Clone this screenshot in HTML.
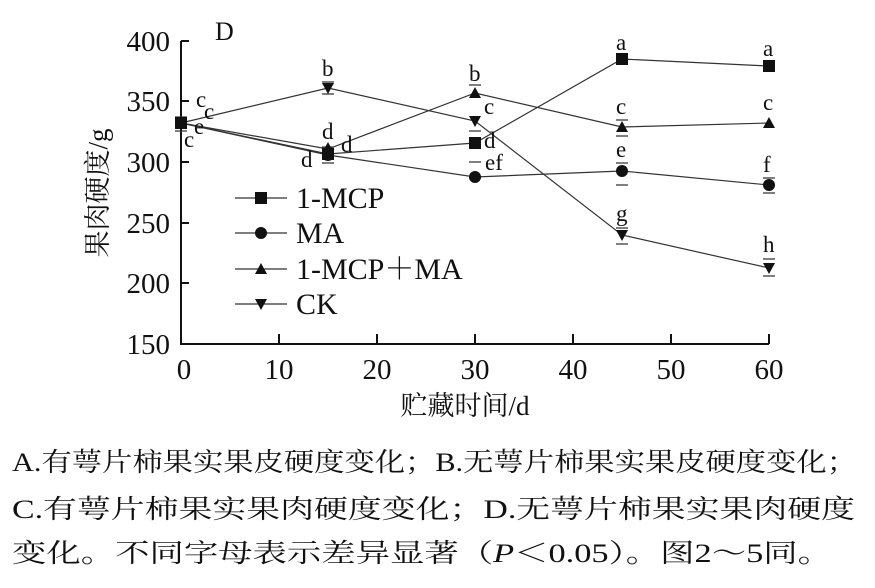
<!DOCTYPE html><html><head><meta charset="utf-8"><style>body{margin:0;background:#fff}svg{display:block;font-family:"Liberation Serif","Noto Serif CJK SC",serif}</style></head><body>
<svg width="875" height="588" xmlns="http://www.w3.org/2000/svg" fill="#111">
<g stroke="#111" stroke-width="2" fill="none">
<path d="M181,41 V344 H769"/>
<path d="M181,41h8M181,101h8M181,162h8M181,223h8M181,283h8"/>
<path d="M279,344v-10M377,344v-10M475,344v-10M573,344v-10M671,344v-10M769,344v-10"/>
</g>
<g stroke="#333" stroke-width="1.2" fill="none">
<polyline points="181,123 328,154 475,143 622,59 769,66"/>
<polyline points="181,123 328,155 475,177 622,171 769,185"/>
<polyline points="181,123 328,149 475,93 622,127 769,123"/>
<polyline points="181,123 328,88 475,121 622,235 769,268"/>
<path d="M235,198h52M235,233h52M235,269h52M235,304h52"/>
<path d="M175,117h12M175,131h12M322,147h12M322,163h12M469,178h12M469,162h12M469,85h12M469,131h12M616,185h12M616,163h12M616,120h12M616,136h12M616,228h12M616,244h12M763,193h12M763,178h12M763,259h12M763,276h12M322,82h12M322,94h12"/>
</g>
<g>
<rect x="175" y="117" width="12" height="12"/>
<rect x="322" y="148" width="12" height="12"/><rect x="469" y="137" width="12" height="12"/><rect x="616" y="53" width="12" height="12"/><rect x="763" y="60" width="12" height="12"/>
<circle cx="328" cy="155" r="6"/><circle cx="475" cy="177" r="6"/><circle cx="622" cy="171" r="6"/><circle cx="769" cy="185" r="6"/>
<path d="M328,142l6,11h-12zM475,87l6,11h-12zM622,121l6,11h-12zM769,117l6,11h-12z"/>
<path d="M328,94l6,-11h-12zM475,127l6,-11h-12zM622,241l6,-11h-12zM769,274l6,-11h-12z"/>
<rect x="255" y="192" width="12" height="12"/><circle cx="261" cy="233" r="6"/><path d="M261,263l6,11h-12z"/><path d="M261,310l6,-11h-12z"/>
</g>
<g font-size="29" text-anchor="end">
<text x="170" y="51">400</text><text x="170" y="111">350</text><text x="170" y="172">300</text><text x="170" y="233">250</text><text x="170" y="293">200</text><text x="170" y="354">150</text>
</g>
<g font-size="29" text-anchor="middle">
<text x="184" y="379">0</text><text x="279" y="379">10</text><text x="377" y="379">20</text><text x="475" y="379">30</text><text x="573" y="379">40</text><text x="671" y="379">50</text><text x="769" y="379">60</text>
</g>
<text x="465" y="415" font-size="27" text-anchor="middle">贮藏时间/d</text>
<text transform="translate(107,193) rotate(-90)" font-size="27" text-anchor="middle">果肉硬度/g</text>
<text x="215" y="40" font-size="26">D</text>
<g font-size="30"><text x="296" y="208">1-MCP</text><text x="296" y="243">MA</text><text x="296" y="279">1-MCP＋MA</text><text x="296" y="314">CK</text></g>
<g font-size="23">
<text x="196" y="107">c</text><text x="204" y="119">c</text><text x="194" y="134">e</text><text x="184" y="147">c</text>
<text x="322" y="76">b</text><text x="322" y="139">d</text><text x="341" y="152">d</text><text x="301" y="167">d</text>
<text x="469" y="81">b</text><text x="484" y="114">c</text><text x="484" y="148">d</text><text x="485" y="170">ef</text>
<text x="616" y="50">a</text><text x="616" y="114">c</text><text x="616" y="157">e</text><text x="616" y="221">g</text>
<text x="763" y="56">a</text><text x="763" y="110">c</text><text x="763" y="172">f</text><text x="763" y="252">h</text>
</g>
<g font-size="26">
<text x="12" y="471" textLength="845" lengthAdjust="spacingAndGlyphs">A.有萼片柿果实果皮硬度变化；B.无萼片柿果实果皮硬度变化；</text>
<text x="12" y="518" textLength="843" lengthAdjust="spacingAndGlyphs">C.有萼片柿果实果肉硬度变化；D.无萼片柿果实果肉硬度</text>
<text x="12" y="562" textLength="820" lengthAdjust="spacingAndGlyphs">变化。不同字母表示差异显著（<tspan font-style="italic">P</tspan>＜0.05）。图2～5同。</text>
</g>
</svg></body></html>
